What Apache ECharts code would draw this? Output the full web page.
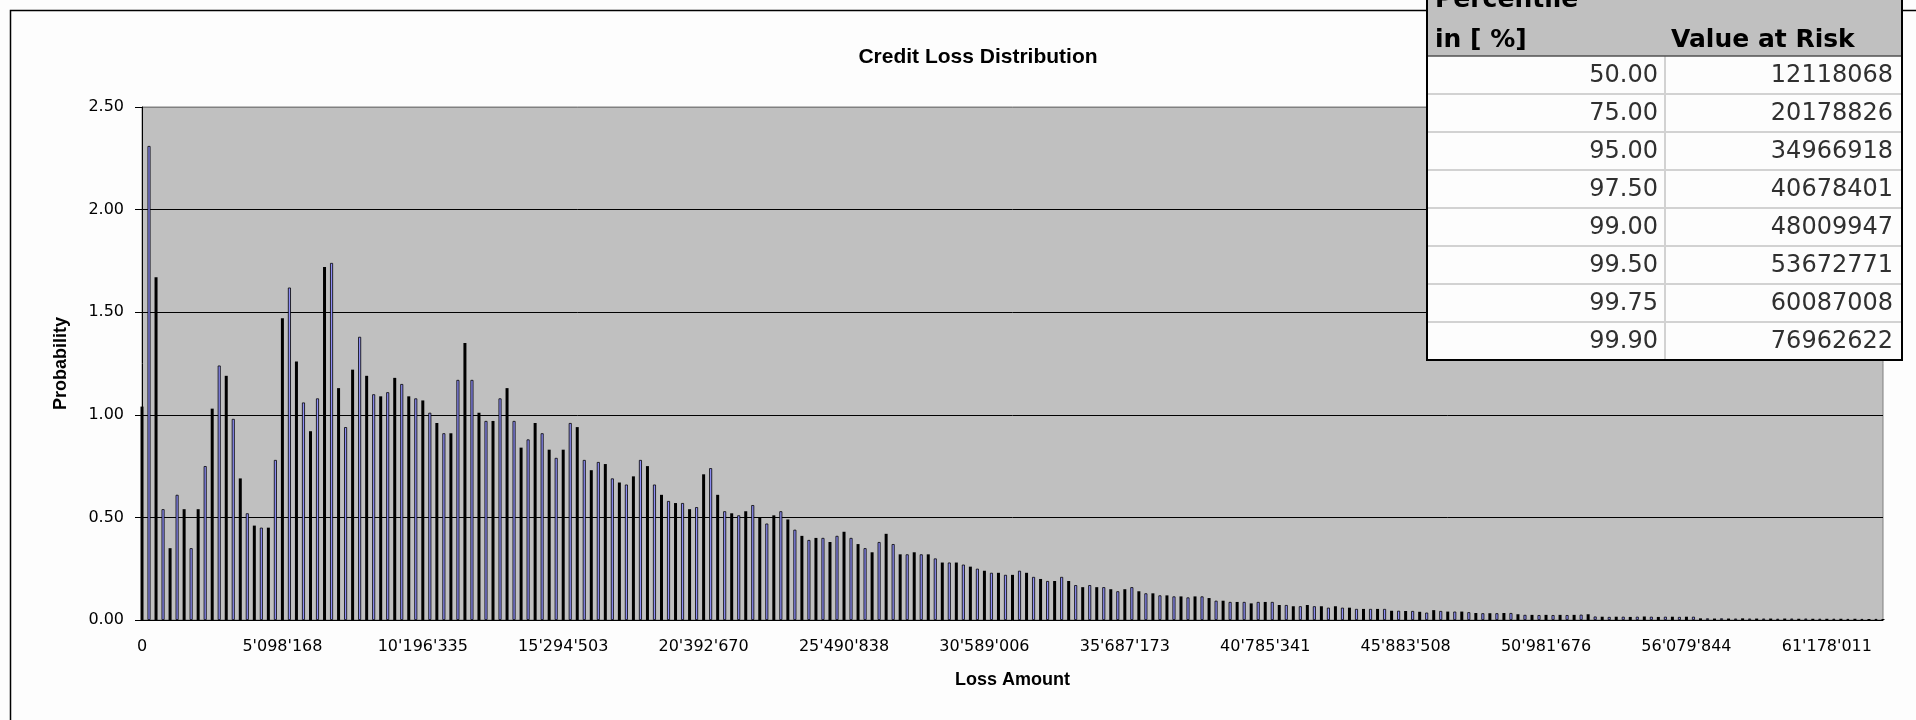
<!DOCTYPE html>
<html>
<head>
<meta charset="utf-8">
<title>Credit Loss Distribution</title>
<script src="https://cdn.jsdelivr.net/npm/echarts@6/dist/echarts.min.js"></script>
<style>
  html, body { margin: 0; padding: 0; background: #fff; }
  #main { width: 1916px; height: 720px; }
</style>
</head>
<body>
<div id="main"></div>
<script type="text/javascript">
// probability per loss bin (in %)
var probability = [
  1.04, 2.31, 1.67, 0.54, 0.35, 0.61, 0.54, 0.35, 0.54, 0.75, 1.03, 1.24, 1.19, 0.98, 0.69, 0.52, 0.46, 0.45, 0.45, 0.78,
  1.47, 1.62, 1.26, 1.06, 0.92, 1.08, 1.72, 1.74, 1.13, 0.94, 1.22, 1.38, 1.19, 1.10, 1.09, 1.11, 1.18, 1.15, 1.09, 1.08,
  1.07, 1.01, 0.96, 0.91, 0.91, 1.17, 1.35, 1.17, 1.01, 0.97, 0.97, 1.08, 1.13, 0.97, 0.84, 0.88, 0.96, 0.91, 0.83, 0.79,
  0.83, 0.96, 0.94, 0.78, 0.73, 0.77, 0.76, 0.69, 0.67, 0.66, 0.70, 0.78, 0.75, 0.66, 0.61, 0.58, 0.57, 0.57, 0.54, 0.55,
  0.71, 0.74, 0.61, 0.53, 0.52, 0.51, 0.53, 0.56, 0.50, 0.47, 0.51, 0.53, 0.49, 0.44, 0.41, 0.39, 0.40, 0.40, 0.38, 0.41,
  0.43, 0.40, 0.37, 0.35, 0.33, 0.38, 0.42, 0.37, 0.32, 0.32, 0.33, 0.32, 0.32, 0.30, 0.28, 0.28, 0.28, 0.27, 0.26, 0.25,
  0.24, 0.23, 0.23, 0.22, 0.22, 0.24, 0.23, 0.21, 0.20, 0.19, 0.19, 0.21, 0.19, 0.17, 0.16, 0.17, 0.16, 0.16, 0.15, 0.14,
  0.15, 0.16, 0.14, 0.13, 0.13, 0.12, 0.12, 0.115, 0.115, 0.11, 0.115, 0.115, 0.107, 0.094, 0.094, 0.088, 0.088, 0.088, 0.081, 0.088,
  0.088, 0.088, 0.073, 0.073, 0.067, 0.067, 0.073, 0.067, 0.067, 0.060, 0.067, 0.060, 0.060, 0.054, 0.054, 0.054, 0.054, 0.054, 0.045, 0.045,
  0.044, 0.044, 0.040, 0.036, 0.048, 0.044, 0.041, 0.041, 0.041, 0.038, 0.034, 0.033, 0.033, 0.033, 0.034, 0.034, 0.028, 0.025, 0.025, 0.024,
  0.025, 0.024, 0.025, 0.024, 0.025, 0.026, 0.028, 0.017, 0.016, 0.015, 0.016, 0.016, 0.015, 0.016, 0.017, 0.016, 0.015, 0.016, 0.016, 0.015,
  0.016, 0.016, 0.008, 0.008, 0.007, 0.008, 0.007, 0.007, 0.008, 0.007, 0.007, 0.007, 0.007, 0.006, 0.007, 0.007, 0.006, 0.007, 0.006, 0.006,
  0.006, 0.006, 0.006, 0.005, 0.006, 0.005, 0.005, 0.005, 0.005
];

// x tick labels, one every 20 bins
var lossTickLabels = ["0", "5'098'168", "10'196'335", "15'294'503", "20'392'670", "25'490'838", "30'589'006",
  "35'687'173", "40'785'341", "45'883'508", "50'981'676", "56'079'844", "61'178'011"];

// percentile table
var percentiles = [50.00, 75.00, 95.00, 97.50, 99.00, 99.50, 99.75, 99.90];
var valueAtRisk = [12118068, 20178826, 34966918, 40678401, 48009947, 53672771, 60087008, 76962622];

var bins = probability.map(function (v, i) { return String(i); });

// the old excel render: every other bar comes out solid black, the others blue with outline
var barData = probability.map(function (v, i) {
  return {
    value: v,
    itemStyle: i % 2
      ? { color: '#8E8EF6', borderColor: '#000', borderWidth: 0.8 }
      : { color: '#000', borderWidth: 0 }
  };
});

var myChart = echarts.init(document.getElementById('main'));

// table drawn as graphic elements, top right corner
var tLeft = 1427, tRight = 1902, tCol = 1665, tHead = 56, rowH = 38;
var tBottom = tHead + rowH * percentiles.length;
var tableEls = [];
tableEls.push({ type: 'rect', z: 100, shape: { x: tLeft, y: -20, width: tRight - tLeft, height: tHead + 20 }, style: { fill: '#C0C0C0' } });
tableEls.push({ type: 'rect', z: 100, shape: { x: tLeft, y: tHead, width: tRight - tLeft, height: tBottom - tHead }, style: { fill: '#FDFDFD' } });
for (var r = 1; r < percentiles.length; r++) {
  tableEls.push({ type: 'line', z: 101, shape: { x1: tLeft, y1: tHead + r * rowH, x2: tRight, y2: tHead + r * rowH }, style: { stroke: '#D2D2D2', lineWidth: 2 } });
}
tableEls.push({ type: 'line', z: 101, shape: { x1: tCol, y1: tHead, x2: tCol, y2: tBottom }, style: { stroke: '#D2D2D2', lineWidth: 2 } });
tableEls.push({ type: 'line', z: 102, shape: { x1: tLeft, y1: tHead, x2: tRight, y2: tHead }, style: { stroke: '#505050', lineWidth: 1.5 } });
tableEls.push({ type: 'rect', z: 103, shape: { x: tLeft, y: -20, width: tRight - tLeft, height: tBottom + 20 }, style: { fill: 'none', stroke: '#000', lineWidth: 2 } });

var headFont = 'bold 25px "DejaVu Sans"';
var cellFont = '24px "DejaVu Sans"';
function txt(x, y, s, align, font, color) {
  return { type: 'text', z: 104, style: { x: x, y: y, text: s, align: align, textAlign: align, verticalAlign: 'middle', textVerticalAlign: 'middle', font: font, fill: color } };
}
tableEls.push(txt(tLeft + 8, 0, 'Percentile', 'left', headFont, '#000'));
tableEls.push(txt(tLeft + 8, 40, 'in [ %]', 'left', headFont, '#000'));
tableEls.push(txt(tCol + 6, 40, 'Value at Risk', 'left', headFont, '#000'));
percentiles.forEach(function (p, i) {
  var cy = tHead + i * rowH + rowH / 2 + 1;
  tableEls.push(txt(tCol - 7, cy, p.toFixed(2), 'right', cellFont, '#303030'));
  tableEls.push(txt(tRight - 9, cy, String(valueAtRisk[i]), 'right', cellFont, '#303030'));
});

var option = {
  animation: false,
  backgroundColor: '#FDFDFD',
  title: {
    text: 'Credit Loss Distribution',
    left: 973,
    top: 42,
    textAlign: 'center',
    textStyle: { fontFamily: 'Liberation Sans', fontWeight: 'bold', fontSize: 21, color: '#000' }
  },
  grid: {
    left: 142, right: 33, top: 107, bottom: 100,
    show: true, backgroundColor: '#C0C0C0', borderColor: '#808080', borderWidth: 1
  },
  xAxis: {
    type: 'category',
    data: bins,
    boundaryGap: false,
    axisLine: { lineStyle: { color: '#000', width: 1 } },
    axisTick: { show: false },
    axisLabel: {
      interval: 19,
      formatter: function (v, i) { return lossTickLabels[i / 20]; },
      color: '#000', fontFamily: 'DejaVu Sans', fontSize: 16, margin: 19
    },
    splitLine: { show: false },
    name: 'Loss Amount',
    nameLocation: 'middle',
    nameGap: 51,
    nameTextStyle: { fontFamily: 'Liberation Sans', fontWeight: 'bold', fontSize: 18, color: '#000' }
  },
  yAxis: {
    type: 'value',
    min: 0, max: 2.5, interval: 0.5,
    axisLine: { show: true, lineStyle: { color: '#000', width: 1 } },
    axisTick: { show: true, length: 7, lineStyle: { color: '#000' } },
    axisLabel: {
      formatter: function (v) { return v.toFixed(2); },
      color: '#000', fontFamily: 'DejaVu Sans', fontSize: 16, margin: 18
    },
    splitLine: { lineStyle: { color: ['#000', '#000', '#000', '#000', '#000', '#808080'], width: 1 } },
    name: 'Probability',
    nameLocation: 'middle',
    nameGap: 72,
    nameTextStyle: { fontFamily: 'Liberation Sans', fontWeight: 'bold', fontSize: 18, color: '#000' }
  },
  series: [{
    name: 'Probability',
    type: 'bar',
    data: barData,
    barWidth: 3
  }],
  graphic: [
    { type: 'rect', silent: true, z: -10, shape: { x: 10.5, y: 10.5, width: 1940, height: 760 }, style: { fill: 'none', stroke: '#000', lineWidth: 1.5 } },
    { type: 'group', silent: true, z: 100, children: tableEls }
  ]
};

myChart.setOption(option);
</script>
</body>
</html>
